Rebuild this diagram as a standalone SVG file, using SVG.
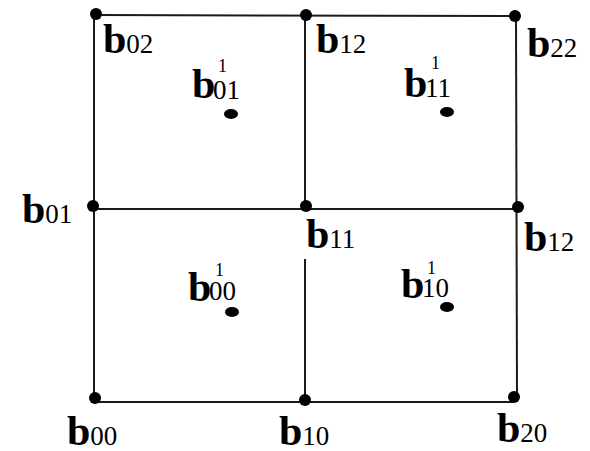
<svg xmlns="http://www.w3.org/2000/svg" width="590" height="451" viewBox="0 0 590 451">
<style>
.ln{stroke:#1a1a1a;stroke-width:2;fill:none}
.dot{fill:#000}
.b{font-family:"Liberation Serif",serif;font-weight:bold;font-size:42px;fill:#000}
.s{font-family:"Liberation Serif",serif;font-weight:normal;font-size:27px;fill:#000}
.p{font-family:"Liberation Serif",serif;font-weight:normal;font-size:18px;fill:#000}
</style>
<rect width="590" height="451" fill="#fff"/>
<g id="connectors">
<line class="ln" x1="96" y1="15" x2="515" y2="16"/>
<line class="ln" x1="93" y1="209" x2="518" y2="209"/>
<line class="ln" x1="95" y1="402" x2="514" y2="402"/>
<line class="ln" x1="94" y1="14" x2="94" y2="398"/>
<line class="ln" x1="305" y1="15" x2="305" y2="209"/>
<line class="ln" x1="305" y1="259" x2="305" y2="400"/>
<line class="ln" x1="516" y1="16" x2="517" y2="397"/>
</g>
<g id="b02"><circle class="dot" cx="96" cy="14" r="6"/><text x="103" y="53"><tspan class="b">b</tspan><tspan class="s">02</tspan></text></g>
<g id="b12top"><circle class="dot" cx="306" cy="15" r="6"/><text x="316" y="53"><tspan class="b">b</tspan><tspan class="s">12</tspan></text></g>
<g id="b22"><circle class="dot" cx="515" cy="16" r="6"/><text x="527" y="57"><tspan class="b">b</tspan><tspan class="s">22</tspan></text></g>
<g id="b01"><circle class="dot" cx="93" cy="206" r="6"/><text x="22" y="223"><tspan class="b">b</tspan><tspan class="s">01</tspan></text></g>
<g id="b11"><circle class="dot" cx="306" cy="206" r="6"/><text x="306" y="248"><tspan class="b">b</tspan><tspan class="s">11</tspan></text></g>
<g id="b12right"><circle class="dot" cx="518" cy="207" r="6"/><text x="524" y="251"><tspan class="b">b</tspan><tspan class="s">12</tspan></text></g>
<g id="b00"><circle class="dot" cx="95" cy="398" r="6"/><text x="67" y="445"><tspan class="b">b</tspan><tspan class="s">00</tspan></text></g>
<g id="b10"><circle class="dot" cx="305" cy="400" r="6"/><text x="279" y="445"><tspan class="b">b</tspan><tspan class="s">10</tspan></text></g>
<g id="b20"><circle class="dot" cx="514" cy="397" r="6"/><text x="497" y="442"><tspan class="b">b</tspan><tspan class="s">20</tspan></text></g>
<g id="b01_1"><ellipse class="dot" cx="231" cy="114" rx="7" ry="5"/><text class="b" x="192" y="98">b</text><text class="s" x="213" y="99">01</text><text class="p" x="218" y="72">1</text></g>
<g id="b11_1"><ellipse class="dot" cx="447" cy="112" rx="7" ry="5"/><text class="b" x="404" y="97">b</text><text class="s" x="425" y="97">11</text><text class="p" x="431" y="69">1</text></g>
<g id="b00_1"><ellipse class="dot" cx="232" cy="312" rx="7" ry="5"/><text class="b" x="188" y="301">b</text><text class="s" x="209" y="300">00</text><text class="p" x="215" y="276">1</text></g>
<g id="b10_1"><ellipse class="dot" cx="447" cy="307" rx="7" ry="5"/><text class="b" x="401" y="298">b</text><text class="s" x="422" y="297">10</text><text class="p" x="427" y="274">1</text></g>
</svg>
